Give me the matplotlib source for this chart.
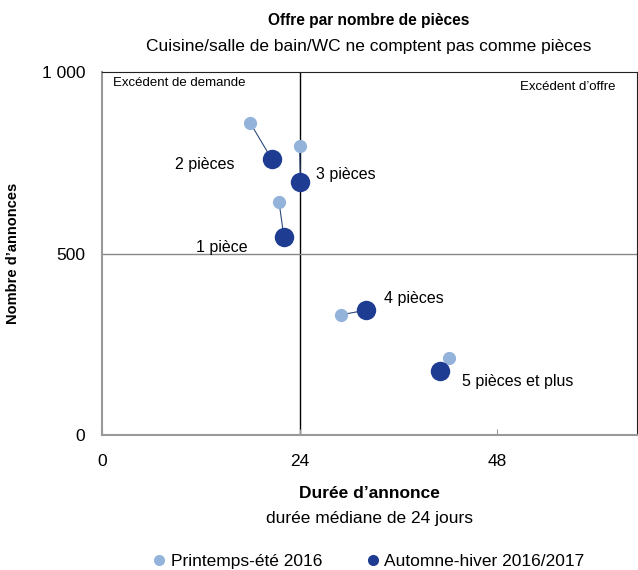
import matplotlib
matplotlib.use("Agg")
import matplotlib.pyplot as plt
from matplotlib.lines import Line2D
import matplotlib.font_manager as fm

names = {f.name for f in fm.fontManager.ttflist}
FONT = 'Liberation Sans Narrow' if 'Liberation Sans Narrow' in names else 'Liberation Sans'
plt.rcParams['font.family'] = [FONT, 'DejaVu Sans']

categories = ["1 pièce", "2 pièces", "3 pièces", "4 pièces", "5 pièces et plus"]
ete_duree = [21.5, 18.0, 24.0, 29.0, 42.1]
ete_annonces = [643, 860, 796, 331, 211]
hiver_duree = [22.1, 20.6, 24.1, 32.1, 41.1]
hiver_annonces = [546, 761, 696, 344, 177]
series_names = ["Printemps-été 2016", "Automne-hiver 2016/2017"]
x_ticks = [0, 24, 48]
y_ticks = [0, 500, 1000]
y_ticklabels = ["0", "500", "1 000"]

light = "#93b3da"
dark = "#1f3c93"

fig = plt.figure(figsize=(6.38, 5.70), dpi=100)
ax = fig.add_axes([102/638, 1-435/570, 535/638, 363/570])
ax.set_xlim(0, 65)
ax.set_ylim(0, 1000)

ax.axvline(24, color="black", lw=1, zorder=1)
ax.axhline(500, color="#888888", lw=1, zorder=1)

for xa, ya, xb, yb in zip(ete_duree, ete_annonces, hiver_duree, hiver_annonces):
    ax.plot([xa, xb], [ya, yb], color="#2d4a7a", lw=0.8, zorder=2)
ax.plot(ete_duree, ete_annonces, 'o', color=light, ms=9.5, mew=0, zorder=3)
ax.plot(hiver_duree, hiver_annonces, 'o', color=dark, ms=14, mew=0, zorder=4)

offsets = {"1 pièce": (-62, -11, 'center'), "2 pièces": (-67, -6, 'center'),
           "3 pièces": (16, 8, 'left'), "4 pièces": (18, 12, 'left'),
           "5 pièces et plus": (22, -11, 'left')}
for c, x, y in zip(categories, hiver_duree, hiver_annonces):
    dx, dy, ha = offsets[c]
    ax.annotate(c, (x, y), xytext=(dx, dy), textcoords='offset pixels',
                ha=ha, va='center', fontsize=11.5)

ax.text(0.020, 0.985, "Excédent de demande", transform=ax.transAxes,
        ha='left', va='top', fontsize=9.5)
ax.text(0.959, 0.975, "Excédent d\u2019offre", transform=ax.transAxes,
        ha='right', va='top', fontsize=9.5)

ax.set_xticks(x_ticks)
ax.set_yticks(y_ticks)
ax.set_yticklabels(y_ticklabels)
ax.tick_params(axis='x', direction='in', length=4, color="#999999", labelsize=12.5, pad=14)
ax.tick_params(axis='y', length=0, labelsize=12.5, pad=12)
for s in ['left', 'bottom']:
    ax.spines[s].set_color("#999999")
    ax.spines[s].set_linewidth(1.5)
for s in ['top', 'right']:
    ax.spines[s].set_color("#222222")
    ax.spines[s].set_linewidth(0.8)

ax.set_ylabel("Nombre d\u2019annonces", fontsize=10.5, fontweight='bold')
ax.yaxis.set_label_coords(-(102 - 20) / 535, 0.5)

fig.text(369/638, 1-20/570, "Offre par nombre de pièces", ha='center', va='center',
         fontsize=11.2, fontweight='bold')
fig.text(369/638, 1-46/570, "Cuisine/salle de bain/WC ne comptent pas comme pièces",
         ha='center', va='center', fontsize=12.5)
fig.text(369/638, 1-494/570, "Durée d\u2019annonce", ha='center', va='center',
         fontsize=12.5, fontweight='bold')
fig.text(369/638, 1-519/570, "durée médiane de 24 jours", ha='center', va='center',
         fontsize=12.5)

handles = [Line2D([], [], marker='o', ls='', color=light, ms=8, mew=0),
           Line2D([], [], marker='o', ls='', color=dark, ms=8, mew=0)]
fig.legend(handles, series_names, loc='center', bbox_to_anchor=(369/638, 1-561/570),
           ncol=2, frameon=False, fontsize=12.5, handlelength=0.7, handletextpad=0.3,
           columnspacing=2.6)

fig.savefig("out.png", dpi=100)
